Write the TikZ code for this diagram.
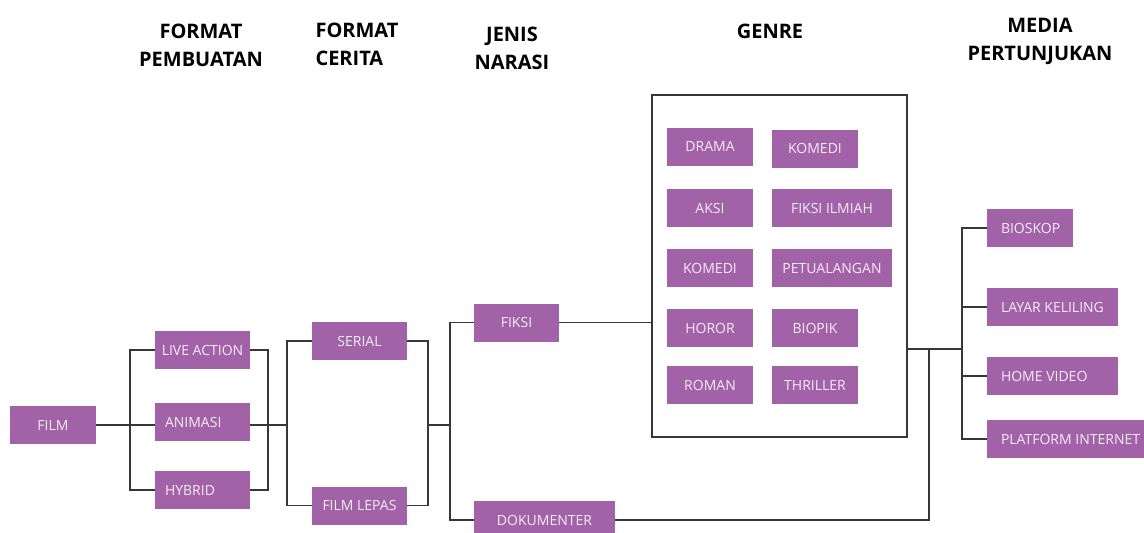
\documentclass[tikz,border=0pt]{standalone}
\usepackage{fontspec}
\setmainfont{Open Sans}
\usetikzlibrary{positioning}

\definecolor{ungu}{RGB}{162,98,168}
\definecolor{tulisan}{RGB}{246,236,246}
\definecolor{garis}{RGB}{55,55,55}
\newcommand{\kiri}[2]{\makebox[#1][l]{#2}}

\begin{document}
\begin{tikzpicture}[x=1pt,y=-1pt]
        \tikzstyle{box}=[rectangle,fill=ungu,text=tulisan,font=\fontsize{14}{16}\selectfont,
                minimum height=38pt,inner sep=0pt]
        \tikzstyle{lbox}=[box,inner xsep=10pt]
        \tikzstyle{rbox}=[box,inner xsep=14pt]
        \tikzstyle{judul}=[font=\fontsize{20}{28}\selectfont\bfseries,anchor=base]
        \tikzstyle{link}=[draw=garis,line width=1.5pt]
        \useasboundingbox (0,0) rectangle (1144,533);

        % judul kolom
        \node[judul,align=center] (hpembuatan) at (201,66) {FORMAT\\PEMBUATAN};
        \node[judul,align=left,anchor=base west] (hcerita) at (312,65) {FORMAT\\CERITA};
        \node[judul,align=center] (hnarasi) at (512,69) {JENIS\\NARASI};
        \node[judul] (hgenre) at (770,38) {GENRE};
        \node[judul,align=center] (hmedia) at (1040,60) {MEDIA\\PERTUNJUKAN};

        % kotak genre
        \node[link,minimum width=255pt,minimum height=342pt,inner sep=0pt] (genre) at (779.5,266) {};

        \node[box,minimum width=86pt] (film) at (53,425) {FILM};
        \node[box,minimum width=95pt] (live) at (202.5,350) {LIVE ACTION};
        \node[lbox] (animasi) at (202.5,422) {\kiri{75pt}{ANIMASI}};
        \node[lbox] (hybrid) at (202.5,490) {\kiri{75pt}{HYBRID}};
        \node[box,minimum width=95pt] (serial) at (359.5,341) {SERIAL};
        \node[box,minimum width=95pt] (lepas) at (359.5,505.5) {FILM LEPAS};
        \node[box,minimum width=85pt] (fiksi) at (516.5,322.5) {FIKSI};
        \node[box,minimum width=141pt] (dokumenter) at (544.5,520) {DOKUMENTER};

        \node[box,minimum width=86pt] (drama) at (710,146.5) {DRAMA};
        \node[box,minimum width=86pt] (komedia) at (815,148.5) {KOMEDI};
        \node[box,minimum width=86pt] (aksi) at (710,208) {AKSI};
        \node[box,minimum width=120pt] (ilmiah) at (832,208) {FIKSI ILMIAH};
        \node[box,minimum width=86pt] (komedib) at (710,268) {KOMEDI};
        \node[box,minimum width=120pt] (petualangan) at (832,268) {PETUALANGAN};
        \node[box,minimum width=86pt] (horor) at (710,328) {HOROR};
        \node[box,minimum width=86pt] (biopik) at (815,328) {BIOPIK};
        \node[box,minimum width=86pt] (roman) at (710,385) {ROMAN};
        \node[box,minimum width=86pt] (thriller) at (815,385) {THRILLER};

        \node[rbox] (bioskop) at (1030,228) {\kiri{58pt}{BIOSKOP}};
        \node[rbox] (layar) at (1052.5,307) {\kiri{103pt}{LAYAR KELILING}};
        \node[rbox] (homevideo) at (1052.5,376) {\kiri{103pt}{HOME VIDEO}};
        \node[rbox] (platform) at (1071,439) {\kiri{140pt}{PLATFORM INTERNET}};

        \coordinate (c1) at (130,425);
        \coordinate (c2) at (268,425);
        \coordinate (c3) at (287,425);
        \coordinate (c4) at (428,425);
        \coordinate (c5) at (450,425);
        \coordinate (c6) at (929,349);
        \coordinate (c7) at (962,349);

        \draw[link] (film) -- (c1);
        \draw[link] (live.west) -| (c1) |- (hybrid.west);
        \draw[link] (animasi.west |- c1) -- (c1);
        \draw[link] (live.east) -| (c2) |- (hybrid.east);
        \draw[link] (animasi.east |- c2) -- (c2) -- (c3);
        \draw[link] (serial.west) -| (c3) |- (lepas.west);
        \draw[link] (serial.east) -| (c4) |- (lepas.east);
        \draw[link] (c4) -- (c5);
        \draw[link] (fiksi.west) -| (c5) |- (dokumenter.west);
        \draw[link] (fiksi) -- (genre.west |- fiksi);
        \draw[link] (dokumenter) -| (c6);
        \draw[link] (genre.east |- c7) -- (c7);
        \draw[link] (bioskop.west) -| (c7) |- (platform.west);
        \draw[link] (layar) -- (c7 |- layar);
        \draw[link] (homevideo) -- (c7 |- homevideo);
\end{tikzpicture}
\end{document}
